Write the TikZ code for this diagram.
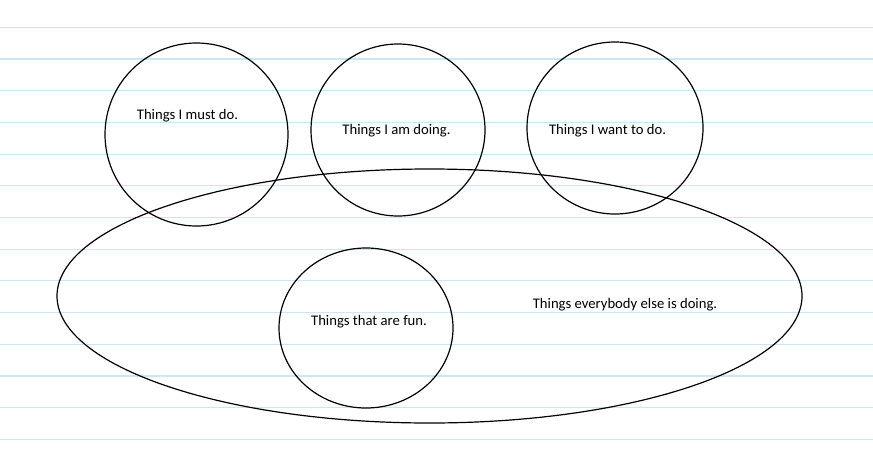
\documentclass[tikz,border=0pt]{standalone}
\usepackage{fontspec}
\setmainfont{Carlito}
\usepackage{xcolor}
\definecolor{ruleblue}{RGB}{200,232,246}

\begin{document}
\begin{tikzpicture}[x=0.75pt,y=-0.75pt,
    label/.style={font=\fontsize{11}{13}\selectfont, inner sep=0pt},
    blob/.style={line width=0.9pt, black}]
            \useasboundingbox (0,0) rectangle (873,468);
            \fill[white] (0,0) rectangle (873,468);
            % ruled paper
            \foreach \k in {0,...,13}
            {
                \draw[ruleblue, line width=0.8pt] (0,27.3+31.7*\k) -- (873,27.3+31.7*\k);
            }
            % sets
            \draw[blob] (196.5,134.5) circle [radius=91.5];
            \draw[blob] (398,130) circle [x radius=87, y radius=86];
            \draw[blob] (615,128) circle [x radius=88, y radius=86];
            \draw[blob] (429.5,296) circle [x radius=372.5, y radius=127];
            \draw[blob] (366,328) circle [x radius=87, y radius=80];
            % labels
            \node[label] (must) at (187.5,116) {Things I must do.};
            \node[label] (doing) at (396.5,131) {Things I am doing.};
            \node[label] (want) at (607.5,131) {Things I want to do.};
            \node[label] (fun) at (369,322) {Things that are fun.};
            \node[label] (else) at (625,305) {Things everybody else is doing.};
        \end{tikzpicture}
\end{document}
